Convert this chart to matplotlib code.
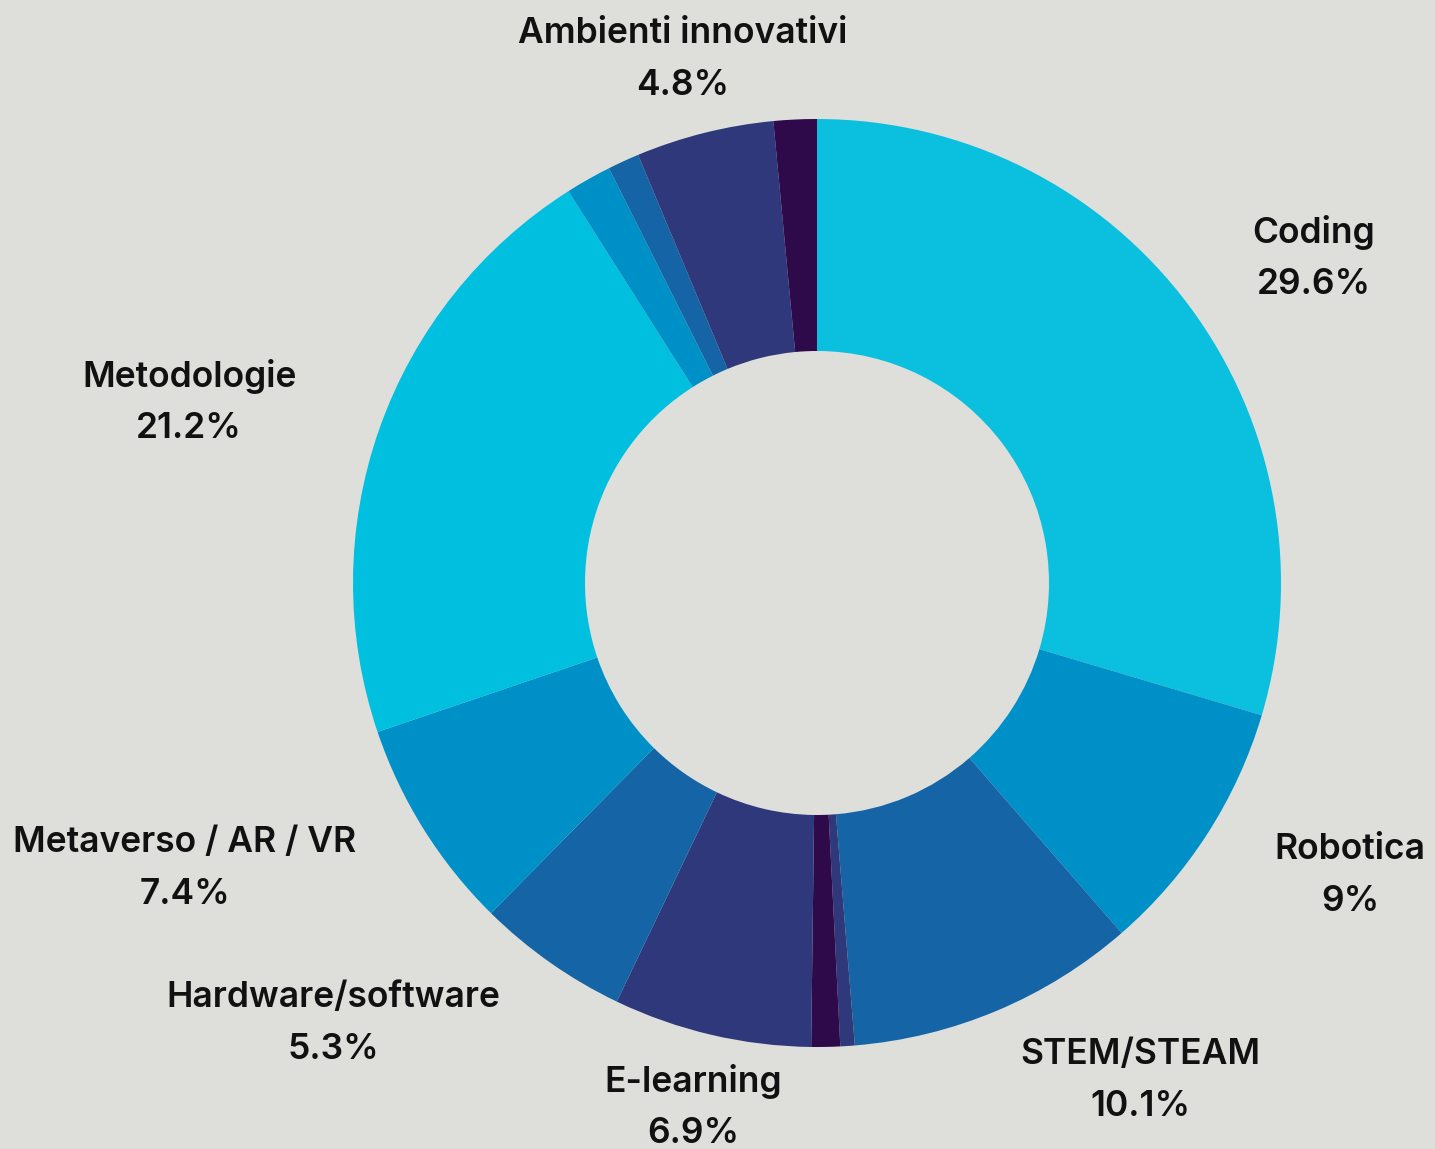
import matplotlib.pyplot as plt
import numpy as np

# slices clockwise from 12 o'clock
categories = ["Coding", "Robotica", "STEM/STEAM", "", "", "E-learning",
              "Hardware/software", "Metaverso / AR / VR", "Metodologie",
              "", "", "Ambienti innovativi", ""]
values = [29.6, 9.0, 10.1, 0.5, 1.0, 6.9, 5.3, 7.4, 21.2, 1.6, 1.1, 4.8, 1.5]
value_labels = ["29.6%", "9%", "10.1%", "", "", "6.9%", "5.3%", "7.4%",
                "21.2%", "", "", "4.8%", ""]

CYAN = "#0bbfdf"
MID = "#0090c8"
BLUE = "#1565a6"
NAVY = "#2e387a"
DARK = "#2e0a4a"
colors = [CYAN, MID, BLUE, NAVY, DARK, NAVY, BLUE, MID, "#00bfdf",
          MID, BLUE, NAVY, DARK]

# label centres (in units of the outer radius, relative to the donut centre)
label_pos = {
    "Coding": (1.07, 0.70),
    "Robotica": (1.149, -0.631),
    "STEM/STEAM": (0.696, -1.073),
    "E-learning": (-0.267, -1.131),
    "Hardware/software": (-1.043, -0.950),
    "Metaverso / AR / VR": (-1.362, -0.616),
    "Metodologie": (-1.353, 0.390),
    "Ambienti innovativi": (-0.289, 1.129),
}

BG = "#dedfdb"
W, H = 1435, 1149
cx, cy, R = 817, 583, 464

fig = plt.figure(figsize=(W / 100, H / 100), dpi=100, facecolor=BG)
ax = fig.add_axes([0, 0, 1, 1])
ax.set_facecolor(BG)

ax.pie(values, colors=colors, startangle=90, counterclock=False,
       radius=1.0, wedgeprops=dict(width=0.5, linewidth=0))

ax.set_xlim(-cx / R, (W - cx) / R)
ax.set_ylim(-(H - cy) / R, cy / R)
ax.set_aspect("auto")
ax.axis("off")

font = dict(family=["Inter", "DejaVu Sans"], fontsize=25.5, fontweight="semibold",
            color="#111111", ha="center", va="center")
gap = 52 / R / 2
for cat, lab in zip(categories, value_labels):
    if not cat:
        continue
    x, y = label_pos[cat]
    ax.text(x, y + gap, cat, **font)
    ax.text(x, y - gap, lab, **font)

fig.savefig("out.png", dpi=100, facecolor=BG)
